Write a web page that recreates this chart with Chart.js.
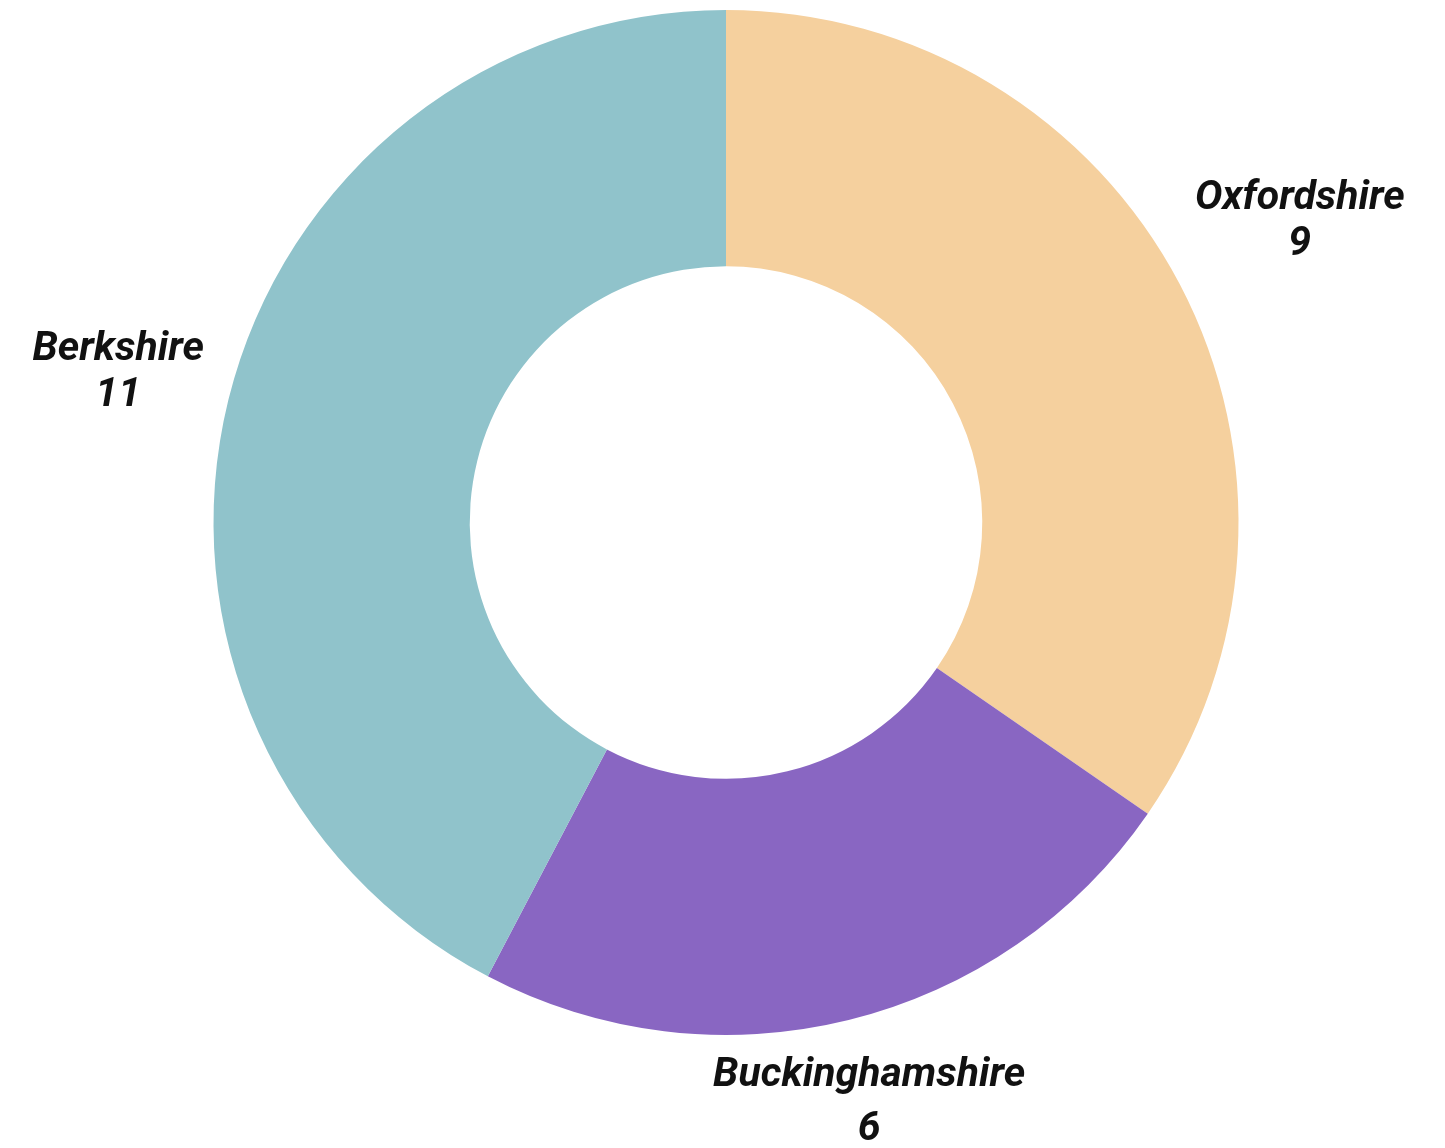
<!DOCTYPE html>
<html>
<head>
<meta charset="utf-8">
<script src="https://cdn.jsdelivr.net/npm/chart.js@4"></script>
<style>
  html, body { margin: 0; padding: 0; background: #fff; }
  #wrap { width: 1445px; height: 1148px; }
</style>
</head>
<body>
<div id="wrap"><canvas id="myChart"></canvas></div>
<script>
const labels = ['Oxfordshire', 'Buckinghamshire', 'Berkshire'];
const values = [9, 6, 11];
const colors = ['#F5D09E', '#8966C2', '#90C3CB'];

// distance of label centre from chart centre, and gap between the two lines
const labelDist = [648, 598, 626];
const lineGap = [46, 54, 46];

const outsideLabels = {
  id: 'outsideLabels',
  afterDatasetsDraw(chart) {
    const ctx = chart.ctx;
    const meta = chart.getDatasetMeta(0);
    ctx.save();
    ctx.font = 'italic bold 41px Roboto';
    ctx.fillStyle = '#111';
    ctx.textAlign = 'center';
    ctx.textBaseline = 'middle';
    meta.data.forEach((arc, i) => {
      const mid = (arc.startAngle + arc.endAngle) / 2;
      const cx = arc.x + Math.cos(mid) * labelDist[i];
      const cy = arc.y + Math.sin(mid) * labelDist[i];
      ctx.fillText(labels[i], cx, cy - lineGap[i] / 2);
      ctx.fillText(String(values[i]), cx, cy + lineGap[i] / 2);
    });
    ctx.restore();
  }
};

const ctx = document.getElementById('myChart');
new Chart(ctx, {
  type: 'doughnut',
  data: {
    labels: labels,
    datasets: [{
      data: values,
      backgroundColor: colors,
      borderColor: '#fff',
      borderWidth: 0
    }]
  },
  options: {
    responsive: true,
    maintainAspectRatio: false,
    animation: false,
    cutout: '50%',
    layout: { padding: { top: 10, bottom: 113, left: 7, right: 0 } },
    plugins: {
      legend: { display: false },
      tooltip: { enabled: false }
    }
  },
  plugins: [outsideLabels]
});
</script>
</body>
</html>
